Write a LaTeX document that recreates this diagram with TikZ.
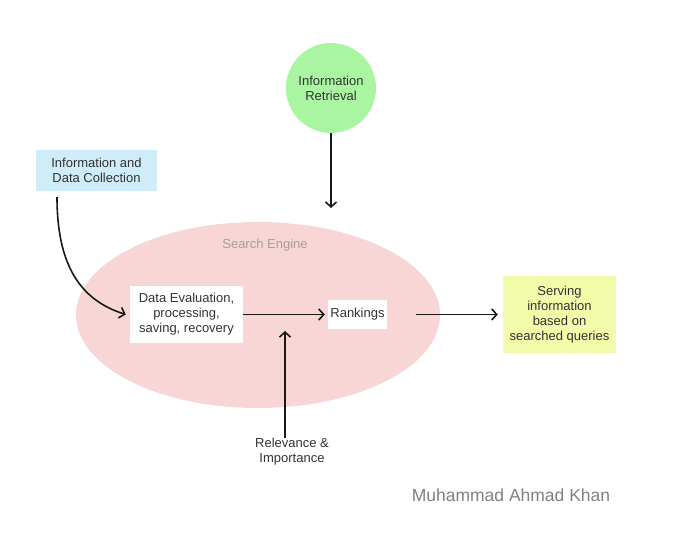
\documentclass[tikz,border=0pt]{standalone}
\usepackage{fontspec}
\setmainfont{Liberation Sans}
\usetikzlibrary{shapes.geometric}
\usetikzlibrary{arrows.meta}

\definecolor{retrgreen}{HTML}{A9F5A2}
\definecolor{collblue}{HTML}{CFECF9}
\definecolor{enginepink}{HTML}{F8D6D6}
\definecolor{serveyellow}{HTML}{F1FBAA}
\definecolor{labelgray}{HTML}{333333}
\definecolor{enginegray}{HTML}{A89C9C}

\tikzset{
  box/.style={rectangle, inner sep=0pt, align=center, text=labelgray},
  flow/.style={->, line width=1.6pt, draw=black!90},
}

\begin{document}
\begin{tikzpicture}[x=1pt, y=-1pt, >={Straight Barb[length=5pt,width=11pt]},
  every node/.style={font=\fontsize{13}{15}\selectfont}]
\useasboundingbox (0,0) rectangle (690,537);
\fill[white] (0,0) rectangle (690,537);

\node[ellipse, fill=enginepink, inner sep=0pt, minimum width=364pt, minimum height=186pt] (engine) at (258,315) {};
\node[text=enginegray] (enginelabel) at (265,245) {Search Engine};

\node[box, circle, fill=retrgreen, minimum size=90pt] (retr) at (331,88) {Information\\Retrieval};
\node[box, fill=collblue, minimum width=121pt, minimum height=41pt] (coll) at (96.5,170.5) {Information and\\Data Collection};
\node[box, fill=white, minimum width=113pt, minimum height=57pt] (eval) at (186.5,314.5) {Data Evaluation,\\processing,\\saving, recovery};
\node[box, fill=white, minimum width=59pt, minimum height=29pt] (rank) at (357.5,314.5) {Rankings};
\node[box, fill=serveyellow, minimum width=113pt, minimum height=77pt] (serve) at (559.5,314.5) {Serving\\information\\based on\\searched queries};
\node[box] (rel) at (292,452) {Relevance \&\\Importance};
\node[text=black!50, font=\fontsize{17.5}{20}\selectfont] (sign) at (511,495) {Muhammad Ahmad Khan};

\coordinate (retrend) at (331,208);
\coordinate (collout) at (57,197);
\coordinate (relin) at (285,331);

\draw[flow] (retr.south) -- (retrend);
\draw[flow] (collout) .. controls (57,265) and (80,300) .. ([xshift=-4pt]eval.west);
\draw[flow, shorten >=3pt] (eval.east) -- (rank.west);
\draw[flow, shorten <=29pt, shorten >=5pt] (rank.east) -- (serve.west);
\draw[flow] (relin |- rel.north) -- (relin);

\end{tikzpicture}
\end{document}
